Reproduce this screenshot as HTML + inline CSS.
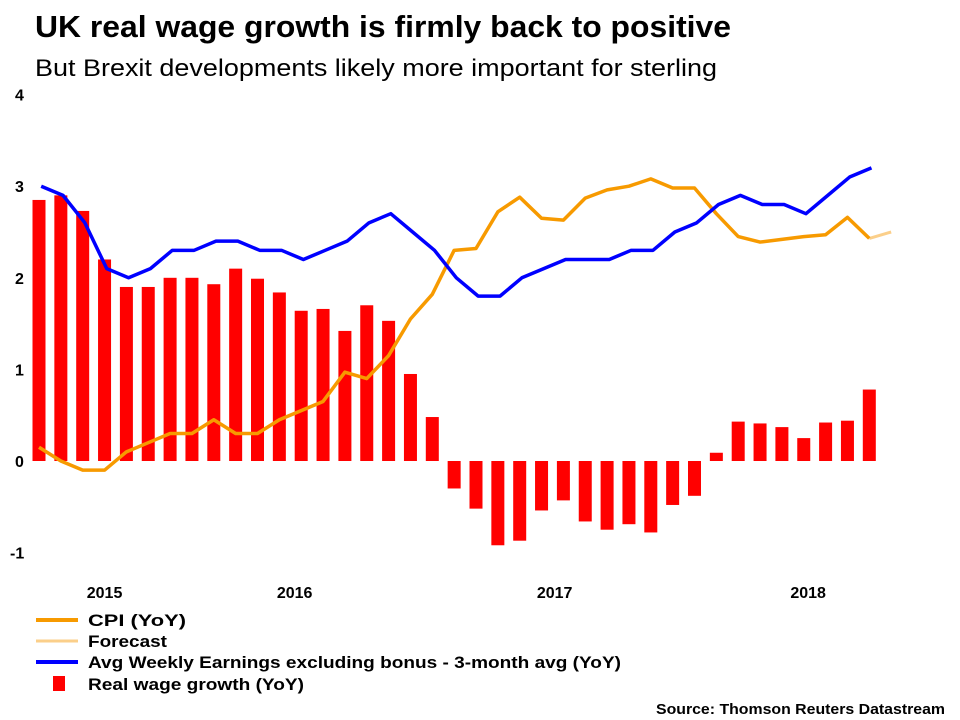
<!DOCTYPE html>
<html><head><meta charset="utf-8"><style>
body{margin:0;background:#fff;font-family:"Liberation Sans",Arial,sans-serif}
svg{display:block}
</style></head><body>
<svg width="960" height="720" id="c">
<text x="35" y="37" font-size="31" font-weight="bold" fill="#000" textLength="696" lengthAdjust="spacingAndGlyphs">UK real wage growth is firmly back to positive</text>
<text x="35" y="76" font-size="24" fill="#000" textLength="682" lengthAdjust="spacingAndGlyphs">But Brexit developments likely more important for sterling</text>
<g id="yaxis"></g>
<g id="xaxis"></g>
<g id="bars"></g>
<g id="lines"></g>
<g font-size="17" font-weight="bold">
<line x1="36" y1="620" x2="78" y2="620" stroke="#f79a00" stroke-width="4"/>
<text x="88" y="626" textLength="98" lengthAdjust="spacingAndGlyphs">CPI (YoY)</text>
<line x1="36" y1="641" x2="78" y2="641" stroke="#fbcf8a" stroke-width="3"/>
<text x="88" y="647" textLength="79" lengthAdjust="spacingAndGlyphs">Forecast</text>
<line x1="36" y1="662" x2="78" y2="662" stroke="#0000ff" stroke-width="4"/>
<text x="88" y="668" textLength="533" lengthAdjust="spacingAndGlyphs">Avg Weekly Earnings excluding bonus - 3-month avg (YoY)</text>
<rect x="53" y="676" width="12" height="15" fill="#ff0000"/>
<text x="88" y="690" textLength="216" lengthAdjust="spacingAndGlyphs">Real wage growth (YoY)</text>
</g>
<text x="945" y="714" font-size="15" font-weight="bold" text-anchor="end" textLength="289" lengthAdjust="spacingAndGlyphs">Source: Thomson Reuters Datastream</text>
</svg>
<script>
const realWage=[2.85,2.9,2.73,2.2,1.9,1.9,2.0,2.0,1.93,2.1,1.99,1.84,1.64,1.66,1.42,1.7,1.53,0.95,0.48,-0.3,-0.52,-0.92,-0.87,-0.54,-0.43,-0.66,-0.75,-0.69,-0.78,-0.48,-0.38,0.09,0.43,0.41,0.37,0.25,0.42,0.44,0.78];
const cpi=[0.15,0.0,-0.1,-0.1,0.1,0.2,0.3,0.3,0.45,0.3,0.3,0.45,0.55,0.65,0.97,0.9,1.15,1.55,1.82,2.3,2.32,2.72,2.88,2.65,2.63,2.87,2.96,3.0,3.08,2.98,2.98,2.7,2.45,2.39,2.42,2.45,2.47,2.66,2.43];
const forecast=[2.43,2.5];
const awe=[3.0,2.9,2.6,2.1,2.0,2.1,2.3,2.3,2.4,2.4,2.3,2.3,2.2,2.3,2.4,2.6,2.7,2.5,2.3,2.0,1.8,1.8,2.0,2.1,2.2,2.2,2.2,2.3,2.3,2.5,2.6,2.8,2.9,2.8,2.8,2.7,2.9,3.1,3.2];
const yTicks=[4,3,2,1,0,-1];
const yearLabels=["2015","2016","2017","2018"];
const yearIdx=[3,11.7,23.6,35.2];
const NS="http://www.w3.org/2000/svg";
const y=v=>461-v*91.6;
const x=i=>39+i*21.85;
function el(t,a,p){const e=document.createElementNS(NS,t);for(const k in a)e.setAttribute(k,a[k]);document.getElementById(p).appendChild(e);return e;}
yTicks.forEach(t=>{const e=el('text',{x:t<0?10:15,y:y(t)+6,'font-size':16,'font-weight':'bold'},'yaxis');e.textContent=t;

});
yearLabels.forEach((l,i)=>{const e=el('text',{x:x(yearIdx[i]),y:598,'font-size':16,'font-weight':'bold','text-anchor':'middle'},'xaxis');e.textContent=l;

});
realWage.forEach((v,i)=>{const r=el('rect',{x:x(i)-6.5,y:Math.min(y(v),y(0)),width:13,height:Math.abs(y(v)-y(0)),fill:'#ff0000'},'bars');

});
function line(arr,off,col,w,name){const p=el('polyline',{points:arr.map((v,i)=>x(i+off)+','+y(v)).join(' '),fill:'none',stroke:col,'stroke-width':w,'stroke-linejoin':'round'},'lines');

}
line(forecast,cpi.length-1,'#fbcf8a',3,'forecast-line');
line(cpi,0,'#f79a00',3.5,'cpi-line');
line(awe,0.1,'#0000ff',3.5,'awe-line');
</script>
</body></html>
